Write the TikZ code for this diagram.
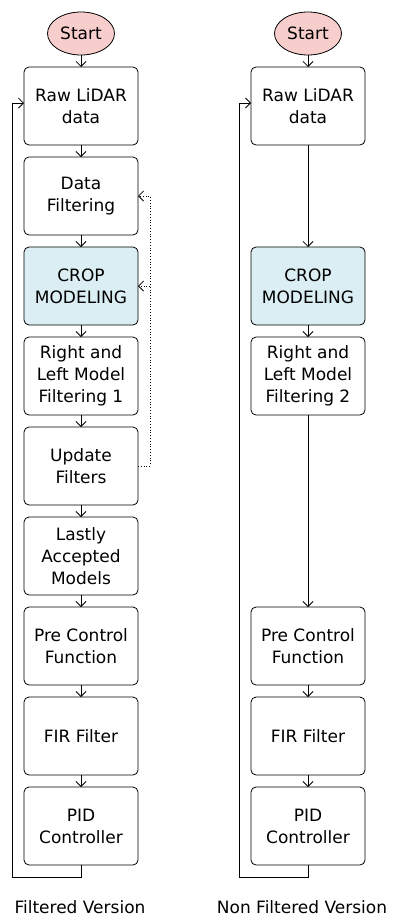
\documentclass[tikz,border=0pt]{standalone}
\usepackage{fontspec}
\setmainfont{DejaVu Sans}
\usetikzlibrary{shapes.geometric,arrows.meta,positioning}
\definecolor{startred}{RGB}{248,206,204}
\definecolor{cropblue}{RGB}{218,238,243}
\tikzset{
  stepbox/.style={draw,rounded corners=5pt,minimum width=114pt,minimum height=78pt,inner sep=2pt,outer sep=0pt,align=center,line width=0.8pt},
  startnode/.style={draw,ellipse,minimum width=67pt,minimum height=43pt,inner sep=0pt,outer sep=0pt,fill=startred,line width=0.8pt},
  flow/.style={-{Straight Barb[length=5pt,width=10pt]},line width=0.8pt},
  back/.style={-{Straight Barb[length=5pt,width=10pt]},dotted,line width=0.8pt}
}
\begin{document}
\begin{tikzpicture}[x=1pt,y=1pt,font=\fontsize{17}{22}\selectfont]
\useasboundingbox (0,0) rectangle (397,-918);

%%%%%%%%%%%%%%%%%%%%%%%%%% filtered version
\node [startnode] (start1) at (81,-33.5) {Start};
\node [anchor=north,stepbox] (raw1) at ([yshift=-12pt]start1.south) {Raw LiDAR\\data};
\node [anchor=north,stepbox] (filt1) at ([yshift=-12pt]raw1.south) {Data\\Filtering};
\node [anchor=north,stepbox,fill=cropblue] (crop1) at ([yshift=-12pt]filt1.south) {CROP\\MODELING};
\node [anchor=north,stepbox] (rl1) at ([yshift=-12pt]crop1.south) {Right and\\Left Model\\Filtering 1};
\node [anchor=north,stepbox] (upd1) at ([yshift=-12pt]rl1.south) {Update\\Filters};
\node [anchor=north,stepbox] (last1) at ([yshift=-12pt]upd1.south) {Lastly\\Accepted\\Models};
\node [anchor=north,stepbox] (pre1) at ([yshift=-12pt]last1.south) {Pre Control\\Function};
\node [anchor=north,stepbox] (fir1) at ([yshift=-12pt]pre1.south) {FIR Filter};
\node [anchor=north,stepbox] (pid1) at ([yshift=-12pt]fir1.south) {PID\\Controller};

\draw [flow] (start1.south)--(raw1.north);
\draw [flow] (raw1.south)--(filt1.north);
\draw [flow] (filt1.south)--(crop1.north);
\draw [flow] (crop1.south)--(rl1.north);
\draw [flow] (rl1.south)--(upd1.north);
\draw [flow] (upd1.south)--(last1.north);
\draw [flow] (last1.south)--(pre1.north);
\draw [flow] (pre1.south)--(fir1.north);
\draw [flow] (fir1.south)--(pid1.north);
\draw [flow] (pid1.south)--++(0,-12pt)-|([xshift=-12pt,yshift=3pt]raw1.west)--([yshift=3pt]raw1.west);
\draw [back] (upd1.east)--++(12pt,0)|-(filt1.east);
\draw [back] ([xshift=12pt]crop1.east)--(crop1.east);

\node (lab1) at (80,-907) {Filtered Version};

%%%%%%%%%%%%%%%%%%%%%%%%%% non filtered version
\node [startnode] (start2) at (308,-33.5) {Start};
\node [anchor=north,stepbox] (raw2) at ([yshift=-12pt]start2.south) {Raw LiDAR\\data};
\node [anchor=north,stepbox,fill=cropblue] (crop2) at ([yshift=-102pt]raw2.south) {CROP\\MODELING};
\node [anchor=north,stepbox] (rl2) at ([yshift=-12pt]crop2.south) {Right and\\Left Model\\Filtering 2};
\node [anchor=north,stepbox] (pre2) at ([yshift=-192pt]rl2.south) {Pre Control\\Function};
\node [anchor=north,stepbox] (fir2) at ([yshift=-12pt]pre2.south) {FIR Filter};
\node [anchor=north,stepbox] (pid2) at ([yshift=-12pt]fir2.south) {PID\\Controller};

\draw [flow] (start2.south)--(raw2.north);
\draw [flow] (raw2.south)--(crop2.north);
\draw [flow] (crop2.south)--(rl2.north);
\draw [flow] (rl2.south)--(pre2.north);
\draw [flow] (pre2.south)--(fir2.north);
\draw [flow] (fir2.south)--(pid2.north);
\draw [flow] (pid2.south)--++(0,-12pt)-|([xshift=-12pt,yshift=3pt]raw2.west)--([yshift=3pt]raw2.west);

\node (lab2) at (302,-907) {Non Filtered Version};

\end{tikzpicture}
\end{document}
